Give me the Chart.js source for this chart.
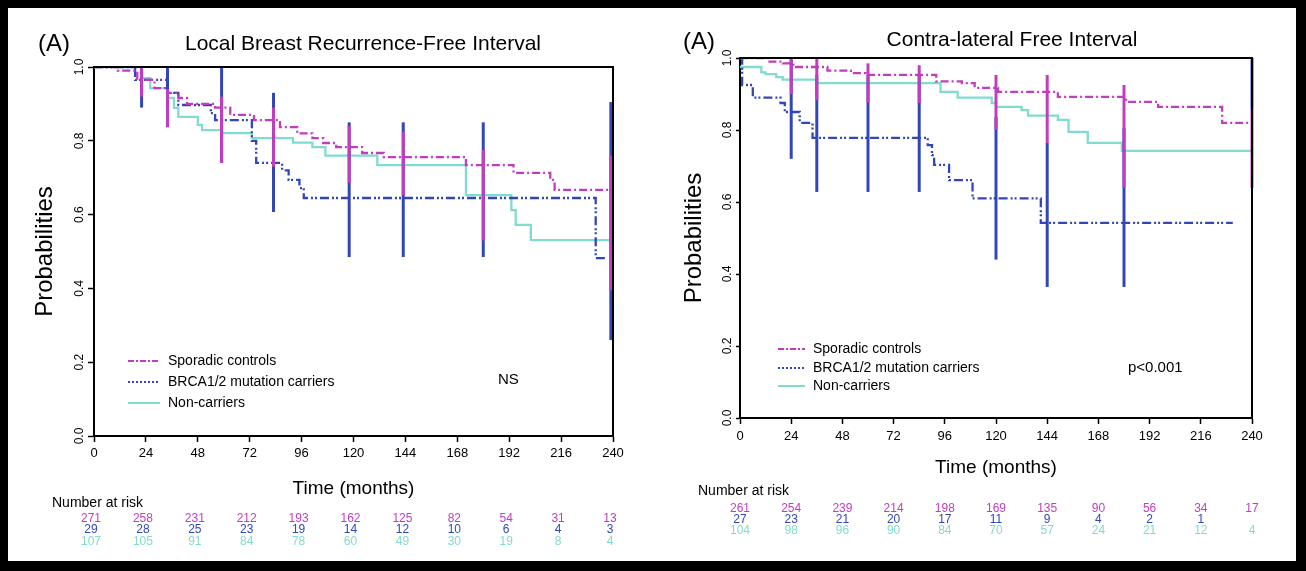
<!DOCTYPE html>
<html>
<head>
<meta charset="utf-8">
<script src="https://cdn.jsdelivr.net/npm/chart.js@4.4.1/dist/chart.umd.min.js"></script>
<style>
  html, body { margin: 0; padding: 0; background: #000; width: 1306px; height: 571px; overflow: hidden; }
  #sheet { position: absolute; left: 8px; top: 8px; width: 1288px; height: 553px; background: #fff; }
  canvas { position: absolute; top: 0; }
  #lbrChart { left: 0; }
  #cfiChart { left: 653px; }
</style>
</head>
<body>
<div id="sheet"></div>
<canvas id="lbrChart" width="653" height="571"></canvas>
<canvas id="cfiChart" width="653" height="571"></canvas>
<script>
const COLORS = { sporadic: "#c23cc0", brca: "#3346b8", non: "#80dccf" };
const GROUP_NAMES = ["Sporadic controls", "BRCA1/2 mutation carriers", "Non-carriers"];
const MONTH_TICKS = [0, 24, 48, 72, 96, 120, 144, 168, 192, 216, 240];
const PROB_TICKS = [0, 0.2, 0.4, 0.6, 0.8, 1.0];

// Local breast recurrence-free interval (Kaplan-Meier steps: month, probability)
const lbrSporadicT = [0, 11, 20, 28, 34, 39, 43, 56, 63, 74, 86, 94, 101, 106, 112, 124, 134, 172, 194, 211, 213, 240];
const lbrSporadicS = [1.0, 0.99, 0.965, 0.943, 0.93, 0.916, 0.9, 0.89, 0.87, 0.856, 0.837, 0.82, 0.807, 0.794, 0.783, 0.767, 0.756, 0.734, 0.713, 0.694, 0.667, 0.667];
const lbrBrcaT = [0, 19, 34, 39, 54, 56, 73, 75, 87, 90, 95, 97, 232, 237];
const lbrBrcaS = [1.0, 0.965, 0.93, 0.897, 0.875, 0.856, 0.8, 0.74, 0.72, 0.694, 0.672, 0.645, 0.482, 0.482];
const lbrNonT = [0, 22, 26, 34, 37, 39, 48, 50, 59, 73, 92, 101, 107, 131, 172, 193, 195, 202, 240];
const lbrNonS = [1.0, 0.97, 0.943, 0.916, 0.889, 0.865, 0.843, 0.829, 0.821, 0.807, 0.795, 0.783, 0.76, 0.734, 0.653, 0.612, 0.572, 0.531, 0.531];
// confidence bars
const lbrBarT = [22, 34, 59, 83, 118, 143, 180, 239];
const lbrBrcaLo = [0.89, 0.837, 0.74, 0.607, 0.485, 0.485, 0.485, 0.26];
const lbrBrcaHi = [1.0, 1.0, 1.0, 0.93, 0.85, 0.85, 0.85, 0.905];
const lbrSporadicLo = [0.92, 0.837, 0.74, 0.73, 0.686, 0.653, 0.53, 0.395];
const lbrSporadicHi = [1.0, 0.94, 0.92, 0.89, 0.84, 0.825, 0.775, 0.76];
// number at risk
const lbrRiskSporadic = [271, 258, 231, 212, 193, 162, 125, 82, 54, 31, 13];
const lbrRiskBrca = [29, 28, 25, 23, 19, 14, 12, 10, 6, 4, 3];
const lbrRiskNon = [107, 105, 91, 84, 78, 60, 49, 30, 19, 8, 4];

// Contra-lateral free interval
const cfiSporadicT = [0, 13, 20, 25, 41, 52, 59, 92, 104, 110, 121, 149, 181, 196, 226, 240];
const cfiSporadicS = [1.0, 0.99, 0.985, 0.975, 0.965, 0.958, 0.953, 0.935, 0.93, 0.917, 0.906, 0.892, 0.878, 0.864, 0.82, 0.82];
const cfiBrcaT = [0, 1, 6, 19, 21, 28, 34, 88, 90, 91, 98, 109, 141, 231];
const cfiBrcaS = [1.0, 0.925, 0.89, 0.875, 0.85, 0.82, 0.778, 0.758, 0.73, 0.703, 0.661, 0.61, 0.542, 0.542];
const cfiNonT = [0, 10, 12, 17, 20, 36, 94, 102, 118, 120, 132, 135, 149, 154, 163, 179, 240];
const cfiNonS = [0.975, 0.96, 0.955, 0.947, 0.94, 0.93, 0.906, 0.89, 0.875, 0.864, 0.855, 0.84, 0.828, 0.795, 0.764, 0.742, 0.742];
const cfiBarT = [24, 36, 60, 84, 120, 144, 180, 240];
const cfiBrcaLo = [0.72, 0.628, 0.628, 0.628, 0.44, 0.364, 0.364, 0.86];
const cfiBrcaHi = [1.0, 0.953, 0.953, 0.953, 0.836, 0.764, 0.805, 1.0];
const cfiSporadicLo = [0.9, 0.883, 0.875, 0.875, 0.8, 0.764, 0.64, 0.64];
const cfiSporadicHi = [1.0, 1.0, 0.985, 0.98, 0.953, 0.953, 0.925, 0.86];
const cfiRiskSporadic = [261, 254, 239, 214, 198, 169, 135, 90, 56, 34, 17];
const cfiRiskBrca = [27, 23, 21, 20, 17, 11, 9, 4, 2, 1];
const cfiRiskNon = [104, 98, 96, 90, 84, 70, 57, 24, 21, 12, 4];

const DASH = { sporadic: [8, 3, 2, 3], brca: [9, 3, 2, 2, 2, 3], non: [] };
const LEGEND_DASH = { sporadic: [6, 2, 2, 2], brca: [2, 2], non: [] };
const FONT = "'Liberation Sans', Arial, sans-serif";

Chart.defaults.font.family = FONT;
Chart.defaults.color = "#000";

function kmLine(key, T, S, order) {
  return {
    label: key, data: T.map((t, i) => ({ x: t, y: S[i] })),
    showLine: true, stepped: true, pointRadius: 0, borderWidth: 2.3,
    borderColor: COLORS[key], borderDash: DASH[key], fill: false, order,
  };
}

function ciBars(key, T, lo, hi, order) {
  return T.map((t, i) => ({
    label: key + "CI", data: [{ x: t, y: lo[i] }, { x: t, y: hi[i] }],
    showLine: true, pointRadius: 0, borderWidth: 3, borderColor: COLORS[key], clip: false, order,
  }));
}

const boxPlugin = {
  id: "plotBox",
  afterDraw(chart) {
    const { ctx, chartArea: a } = chart;
    ctx.save();
    ctx.strokeStyle = "#000";
    ctx.lineWidth = 2;
    ctx.beginPath();
    ctx.moveTo(a.left, a.top);
    ctx.lineTo(a.right, a.top);
    ctx.lineTo(a.right, a.bottom);
    ctx.stroke();
    ctx.restore();
  },
};

function textPlugin(p) {
  return {
    id: "panelText",
    afterDraw(chart) {
      const ctx = chart.ctx;
      const xs = chart.scales.x;
      ctx.save();
      ctx.fillStyle = "#000";
      ctx.textBaseline = "middle";
      ctx.font = "24px " + FONT;
      ctx.textAlign = "left";
      ctx.fillText("(A)", p.tag[0], p.tag[1]);
      ctx.font = "21px " + FONT;
      ctx.textAlign = "center";
      ctx.fillText(p.title, p.titlePos[0], p.titlePos[1]);

      // legend
      const keys = ["sporadic", "brca", "non"];
      keys.forEach((k, i) => {
        const y = p.legend.y[i];
        ctx.strokeStyle = COLORS[k];
        ctx.lineWidth = 2;
        ctx.setLineDash(LEGEND_DASH[k]);
        ctx.beginPath();
        ctx.moveTo(p.legend.x, y);
        ctx.lineTo(p.legend.x + p.legend.len, y);
        ctx.stroke();
        ctx.setLineDash([]);
        ctx.font = "14px " + FONT;
        ctx.textAlign = "left";
        ctx.fillStyle = "#000";
        ctx.fillText(GROUP_NAMES[i], p.legend.x + p.legend.len + 8, y);
      });
      ctx.font = "15px " + FONT;
      ctx.fillText(p.note, p.notePos[0], p.notePos[1]);

      // number at risk table
      ctx.font = "14px " + FONT;
      ctx.fillText("Number at risk", p.risk.x, p.risk.y);
      ctx.font = "12px " + FONT;
      ctx.textAlign = "center";
      p.risk.rows.forEach((row, r) => {
        ctx.fillStyle = COLORS[keys[r]];
        row.forEach((n, i) => {
          ctx.fillText(String(n), xs.getPixelForValue(MONTH_TICKS[i]) - p.risk.shift, p.risk.rowY[r]);
        });
      });
      ctx.restore();
    },
  };
}

function makePanel(id, p) {
  return new Chart(document.getElementById(id), {
    type: "scatter",
    data: {
      datasets: [
        kmLine("non", p.non[0], p.non[1], 6),
        kmLine("brca", p.brca[0], p.brca[1], 5),
        kmLine("sporadic", p.sporadic[0], p.sporadic[1], 4),
        ...ciBars("brca", p.bars.t, p.bars.brcaLo, p.bars.brcaHi, 3),
        ...ciBars("sporadic", p.bars.t, p.bars.sporLo, p.bars.sporHi, 2),
      ],
    },
    options: {
      responsive: false,
      animation: false,
      events: [],
      layout: { padding: p.padding },
      plugins: { legend: { display: false }, tooltip: { enabled: false } },
      scales: {
        x: {
          type: "linear", min: 0, max: 240,
          afterBuildTicks: (s) => { s.ticks = MONTH_TICKS.map((v) => ({ value: v })); },
          afterFit: (s) => { s.height = p.xHeight; },
          ticks: { font: { size: 13 }, maxRotation: 0, autoSkip: false, padding: p.xTickPad, color: "#000" },
          grid: { drawOnChartArea: false, drawTicks: true, tickLength: 6, tickColor: "#000", tickWidth: 1.5 },
          border: { display: true, color: "#000", width: 2 },
          title: { display: true, text: "Time (months)", font: { size: 19 }, color: "#000", padding: 0 },
        },
        y: {
          type: "linear", min: 0, max: 1,
          afterBuildTicks: (s) => { s.ticks = PROB_TICKS.map((v) => ({ value: v })); },
          afterFit: (s) => { s.width = p.yWidth; },
          ticks: { font: { size: 12 }, minRotation: 90, maxRotation: 90, crossAlign: "center", padding: p.yTickPad, color: "#000", callback: (v) => v.toFixed(1) },
          grid: { drawOnChartArea: false, drawTicks: true, tickLength: p.yTickLen, tickColor: "#000", tickWidth: 1.5 },
          border: { display: true, color: "#000", width: 2 },
          title: { display: true, text: "Probabilities", font: { size: 24 }, color: "#000", padding: 0 },
        },
      },
    },
    plugins: [boxPlugin, textPlugin(p)],
  });
}

makePanel("lbrChart", {
  sporadic: [lbrSporadicT, lbrSporadicS], brca: [lbrBrcaT, lbrBrcaS], non: [lbrNonT, lbrNonS],
  bars: { t: lbrBarT, brcaLo: lbrBrcaLo, brcaHi: lbrBrcaHi, sporLo: lbrSporadicLo, sporHi: lbrSporadicHi },
  padding: { left: 31, right: 40, top: 67, bottom: 71 },
  yWidth: 63, xHeight: 64, xTickPad: 4, yTickPad: 0, yTickLen: 6,
  tag: [38, 44], title: "Local Breast Recurrence-Free Interval", titlePos: [363, 44],
  legend: { x: 128, len: 32, y: [361, 382, 403] },
  note: "NS", notePos: [498, 380],
  risk: { x: 52, y: 503, rowY: [519, 530, 542], shift: 3, rows: [lbrRiskSporadic, lbrRiskBrca, lbrRiskNon] },
});

makePanel("cfiChart", {
  sporadic: [cfiSporadicT, cfiSporadicS], brca: [cfiBrcaT, cfiBrcaS], non: [cfiNonT, cfiNonS],
  bars: { t: cfiBarT, brcaLo: cfiBrcaLo, brcaHi: cfiBrcaHi, sporLo: cfiSporadicLo, sporHi: cfiSporadicHi },
  padding: { left: 27, right: 54, top: 58, bottom: 92 },
  yWidth: 60, xHeight: 61, xTickPad: 5, yTickPad: 0, yTickLen: 4,
  tag: [30, 42], title: "Contra-lateral Free Interval", titlePos: [359, 40],
  legend: { x: 125, len: 27, y: [349, 368, 386] },
  note: "p<0.001", notePos: [475, 368],
  risk: { x: 45, y: 491, rowY: [509, 520, 531], shift: 0, rows: [cfiRiskSporadic, cfiRiskBrca, cfiRiskNon] },
});
</script>
</body>
</html>
